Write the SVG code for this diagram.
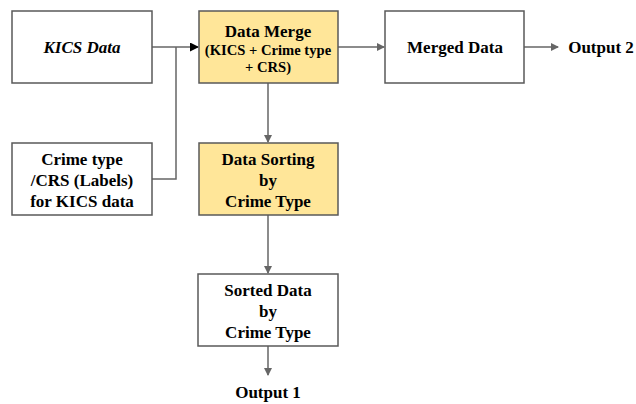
<svg xmlns="http://www.w3.org/2000/svg" width="636" height="404" viewBox="0 0 636 404">
<style>
.box{fill:#ffffff;stroke:#595959;stroke-width:1.5}
.hl{fill:#ffe699;stroke:#595959;stroke-width:1.5}
text{font-family:'Liberation Serif','Times New Roman',Times,serif;font-weight:bold;font-size:17px;fill:#000;text-anchor:middle}
.s{font-size:14.6px}
.c{fill:none;stroke:#666666;stroke-width:1.5}
</style>
<defs>
<marker id="a" markerWidth="8" markerHeight="8" refX="7" refY="4" orient="auto" markerUnits="userSpaceOnUse"><path d="M0,0 L8,4 L0,8 z" fill="#666666"/></marker>
<marker id="ab" markerWidth="9" markerHeight="9" refX="8" refY="4.5" orient="auto" markerUnits="userSpaceOnUse"><path d="M0,0 L9,4.5 L0,9 z" fill="#000000"/></marker>
</defs>
<g id="connectors">
<path class="c" d="M152,47 H198" marker-end="url(#ab)"/>
<path class="c" d="M152,179 H176 V47"/>
<path class="c" d="M268,83 V142" marker-end="url(#a)"/>
<path class="c" d="M338,47 H384" marker-end="url(#a)"/>
<path class="c" d="M524,47 H558" marker-end="url(#a)"/>
<path class="c" d="M268,215 V273" marker-end="url(#a)"/>
<path class="c" d="M268,346 V375" marker-end="url(#a)"/>
</g>
<g id="kics"><rect class="box" x="12" y="11" width="140" height="72"/><text x="82" y="53" font-style="italic">KICS Data</text></g>
<g id="merge"><rect class="hl" x="199" y="11" width="139" height="72"/>
<text x="268" y="37">Data Merge</text>
<text class="s" x="268" y="55">(KICS + Crime type</text>
<text class="s" x="268" y="72">+ CRS)</text></g>
<g id="merged"><rect class="box" x="385" y="11" width="139" height="72"/><text x="455" y="53">Merged Data</text></g>
<text x="601" y="53">Output 2</text>
<g id="labels"><rect class="box" x="12" y="143" width="140" height="72"/>
<text x="82" y="165">Crime type</text>
<text x="82" y="186">/CRS (Labels)</text>
<text x="82" y="207">for KICS data</text></g>
<g id="sorting"><rect class="hl" x="199" y="143" width="139" height="72"/>
<text x="268" y="165">Data Sorting</text>
<text x="268" y="186">by</text>
<text x="268" y="207">Crime Type</text></g>
<g id="sorted"><rect class="box" x="198" y="274" width="140" height="72"/>
<text x="268" y="296">Sorted Data</text>
<text x="268" y="317">by</text>
<text x="268" y="338">Crime Type</text></g>
<text x="268" y="398">Output 1</text>
</svg>
